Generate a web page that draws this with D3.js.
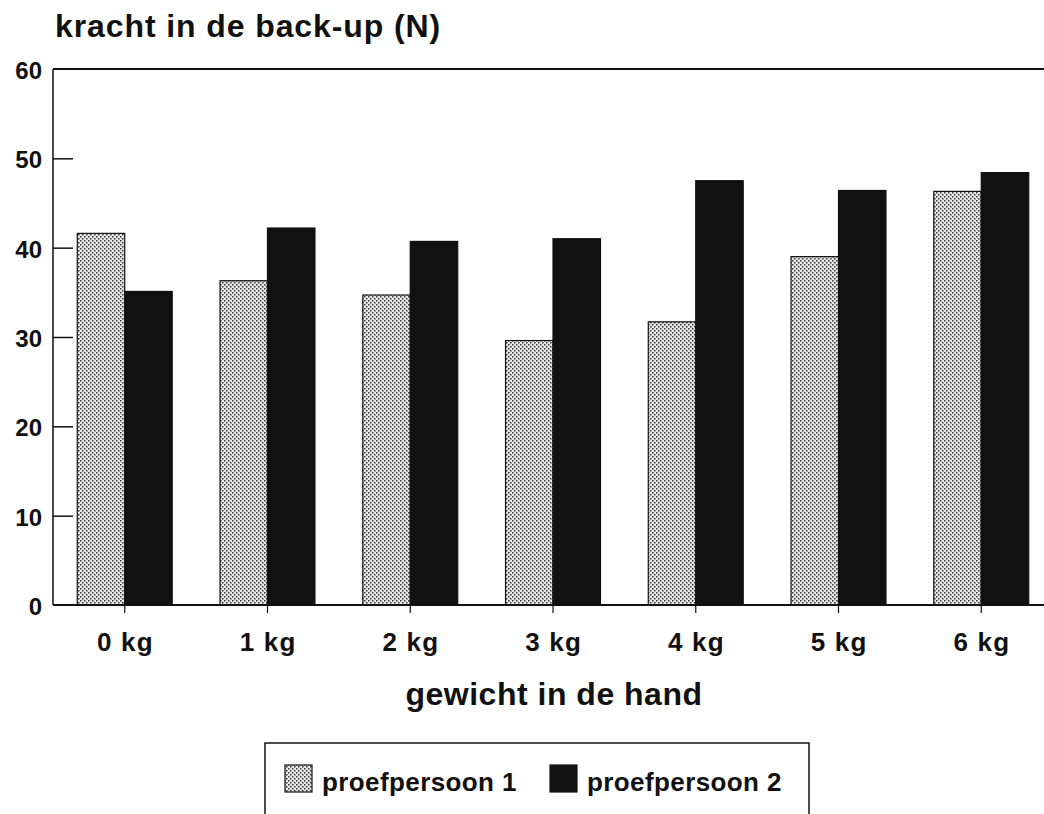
<!DOCTYPE html>
<html><head><meta charset="utf-8">
<script src="https://cdn.jsdelivr.net/npm/d3@7"></script>
<style>
html,body{margin:0;padding:0;background:#fff;}
text{font-family:"Liberation Sans",Arial,Helvetica,sans-serif;font-weight:bold;fill:#111;}
</style></head>
<body>
<svg id="c" width="1044" height="814"></svg>
<script>
const categories = ["0 kg","1 kg","2 kg","3 kg","4 kg","5 kg","6 kg"];
const seriesNames = ["proefpersoon 1","proefpersoon 2"];
const persoon1 = [41.6, 36.3, 34.7, 29.6, 31.7, 39.0, 46.3];
const persoon2 = [35.1, 42.2, 40.7, 41.0, 47.5, 46.4, 48.4];
const yTicks = [0,10,20,30,40,50,60];
const yTitle = "kracht in de back-up (N)";
const xTitle = "gewicht in de hand";

const svg = d3.select("#c");
const defs = svg.append("defs");
const pat = defs.append("pattern").attr("id","dots").attr("patternUnits","userSpaceOnUse")
  .attr("width",4).attr("height",4);
pat.append("rect").attr("width",4).attr("height",4).attr("fill","#e8e8e8");
pat.append("rect").attr("x",0).attr("y",0).attr("width",1.5).attr("height",1.5).attr("fill","#333");
pat.append("rect").attr("x",2).attr("y",2).attr("width",1.5).attr("height",1.5).attr("fill","#333");

const L = 53, R = 1053, T = 69, B = 605;
const x = d3.scaleBand().domain(categories).range([L,R]).paddingInner(0.335).paddingOuter(0.17);
const xs = d3.scaleBand().domain([0,1]).range([0,x.bandwidth()]);
const y = d3.scaleLinear().domain([0,60]).range([B,T]);

const fills = ["url(#dots)","#111"];
const data = categories.map((c,i)=>({c, v:[persoon1[i],persoon2[i]]}));

const g = svg.append("g");
data.forEach(d=>{
  d.v.forEach((v,s)=>{
    g.append("rect")
      .attr("x", x(d.c)+xs(s))
      .attr("y", y(v))
      .attr("width", xs.bandwidth())
      .attr("height", y(0)-y(v))
      .attr("fill", fills[s])
      .attr("stroke", "#111")
      .attr("stroke-width", 1.2);
  });
});

// y axis with inward ticks
const yAxis = d3.axisLeft(y).tickValues(yTicks).tickSize(-20).tickPadding(11);
const ya = svg.append("g").attr("transform",`translate(${L},0)`).call(yAxis);
ya.select(".domain").attr("stroke","#111").attr("stroke-width",1.5).attr("d",`M0,${B}V${T}`);
ya.selectAll(".tick line").attr("stroke","#111").attr("stroke-width",1.5);
ya.selectAll(".tick text").style("font-size","24px").attr("dy","0.4em").attr("fill","#111");
ya.selectAll(".tick").filter(d=>d===0||d===60).select("line").remove();

// top line
svg.append("line").attr("x1",L).attr("x2",R).attr("y1",T).attr("y2",T).attr("stroke","#111").attr("stroke-width",1.8);

// x axis
const xAxis = d3.axisBottom(x).tickSize(8).tickPadding(20);
const xa = svg.append("g").attr("transform",`translate(0,${B})`).call(xAxis);
xa.select(".domain").attr("stroke","#111").attr("stroke-width",1.8).attr("d",`M${L},0H${R}`);
xa.selectAll(".tick line").attr("stroke","#111").attr("stroke-width",1.2);
xa.selectAll(".tick text").style("font-size","26px").style("letter-spacing","1.2px").attr("dx","0.6").attr("fill","#111");

// titles
svg.append("text").attr("x",55).attr("y",37).style("font-size","32px").style("letter-spacing","0.9px").text(yTitle);
svg.append("text").attr("x",554).attr("y",705).attr("text-anchor","middle").style("font-size","32px").style("letter-spacing","0.5px").text(xTitle);

// legend
const lg = svg.append("g");
lg.append("rect").attr("x",265).attr("y",743).attr("width",544).attr("height",90)
  .attr("fill","none").attr("stroke","#111").attr("stroke-width",1.5);
const legX = [285, 550];
seriesNames.forEach((n,s)=>{
  lg.append("rect").attr("x",legX[s]).attr("y",765).attr("width",27).attr("height",27)
    .attr("fill",fills[s]).attr("stroke","#111").attr("stroke-width",1.2);
  lg.append("text").attr("x",legX[s]+37).attr("y",791).style("font-size","26px").style("letter-spacing","0.4px").text(n);
});
</script>
</body></html>
